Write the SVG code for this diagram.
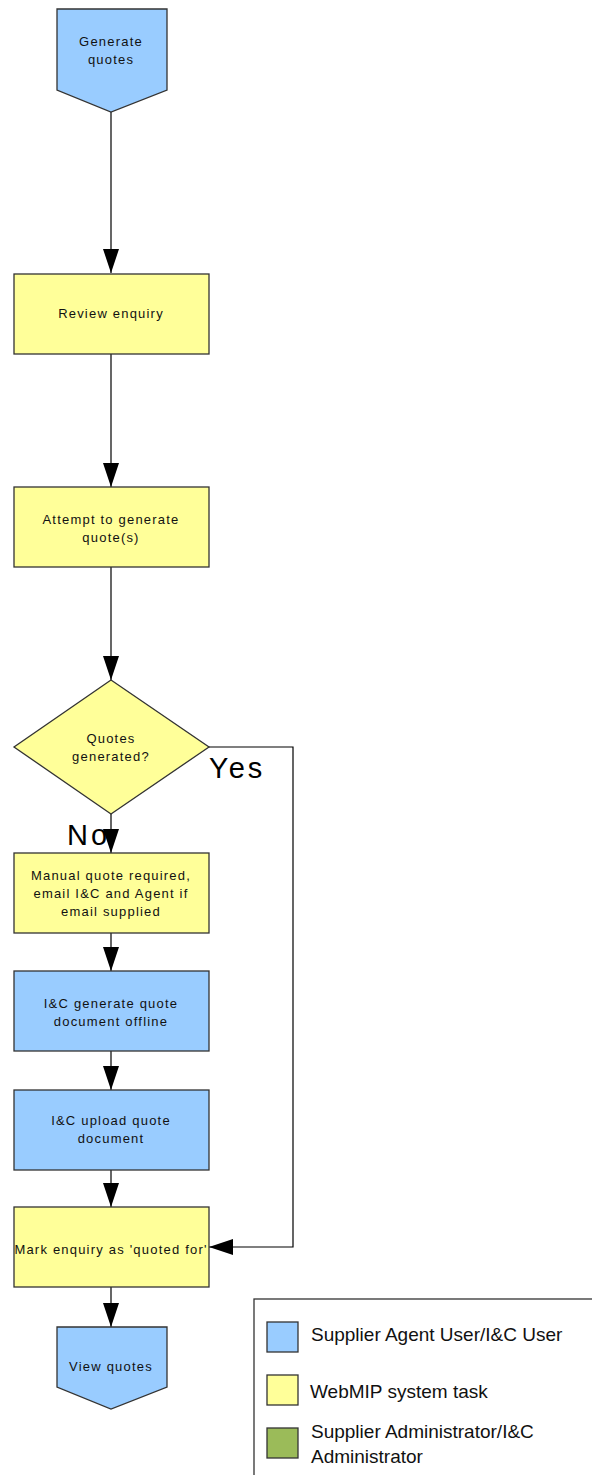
<svg xmlns="http://www.w3.org/2000/svg" width="592" height="1475" viewBox="0 0 592 1475">
<defs>
<style>
.n{stroke:#333;stroke-width:1.3}
.b{fill:#99CCFF}
.y{fill:#FFFF99}
.g{fill:#9BBB59}
.t{font-family:"Liberation Sans",Arial,sans-serif;font-size:13px;letter-spacing:1.2px;fill:#111;text-anchor:middle}
.big{font-family:"Liberation Sans",Arial,sans-serif;font-size:29px;letter-spacing:3px;fill:#000}
.lg{font-family:"Liberation Sans",Arial,sans-serif;font-size:19px;fill:#111}
.c{fill:none;stroke:#000;stroke-width:1.2}
</style>
<marker id="ah" viewBox="0 0 24 16" refX="24" refY="8" markerWidth="24" markerHeight="16" markerUnits="userSpaceOnUse" orient="auto">
<path d="M0,0 L24,8 L0,16 z" fill="#000"/>
</marker>
</defs>
<rect width="592" height="1475" fill="#fff"/>
<g id="connectors">
<path class="c" d="M111,112 V273" marker-end="url(#ah)"/>
<path class="c" d="M111,354 V487" marker-end="url(#ah)"/>
<path class="c" d="M111,567 V680" marker-end="url(#ah)"/>
<path class="c" d="M111,814 V853" marker-end="url(#ah)"/>
<path class="c" d="M111,933 V971" marker-end="url(#ah)"/>
<path class="c" d="M111,1051 V1090" marker-end="url(#ah)"/>
<path class="c" d="M111,1170 V1207" marker-end="url(#ah)"/>
<path class="c" d="M111,1287 V1327" marker-end="url(#ah)"/>
<path class="c" d="M209,747 H293 V1247 H209" marker-end="url(#ah)"/>
<text class="big" x="209" y="778">Yes</text>
<text class="big" x="67" y="845">No</text>
</g>
<g id="generate-quotes">
<path class="n b" d="M57,9 H167 V90 L111,112 L57,90 Z"/>
<text class="t" x="111" y="46">Generate</text>
<text class="t" x="111" y="64">quotes</text>
</g>
<g id="review-enquiry">
<rect class="n y" x="14" y="274" width="195" height="80"/>
<text class="t" x="111" y="318">Review enquiry</text>
</g>
<g id="attempt">
<rect class="n y" x="14" y="487" width="195" height="80"/>
<text class="t" x="111" y="524">Attempt to generate</text>
<text class="t" x="111" y="542">quote(s)</text>
</g>
<g id="quotes-generated">
<path class="n y" d="M111,680 L209,747 L111,814 L14,747 Z"/>
<text class="t" x="111" y="743">Quotes</text>
<text class="t" x="111" y="761">generated?</text>
</g>
<g id="manual-quote">
<rect class="n y" x="14" y="853" width="195" height="80"/>
<text class="t" x="111" y="880">Manual quote required,</text>
<text class="t" x="111" y="898">email I&amp;C and Agent if</text>
<text class="t" x="111" y="916">email supplied</text>
</g>
<g id="ic-generate">
<rect class="n b" x="14" y="971" width="195" height="80"/>
<text class="t" x="111" y="1008">I&amp;C generate quote</text>
<text class="t" x="111" y="1026">document offline</text>
</g>
<g id="ic-upload">
<rect class="n b" x="14" y="1090" width="195" height="80"/>
<text class="t" x="111" y="1125">I&amp;C upload quote</text>
<text class="t" x="111" y="1143">document</text>
</g>
<g id="mark-enquiry">
<rect class="n y" x="14" y="1207" width="195" height="80"/>
<text class="t" x="111" y="1254">Mark enquiry as 'quoted for'</text>
</g>
<g id="view-quotes">
<path class="n b" d="M57,1327 H167 V1387 L111,1409 L57,1387 Z"/>
<text class="t" x="111" y="1371">View quotes</text>
</g>
<g id="legend">
<rect x="254" y="1299" width="345" height="185" fill="#fff" stroke="#333" stroke-width="1.3"/>
<rect class="n b" x="267" y="1322" width="31" height="30"/>
<text class="lg" x="311" y="1341">Supplier Agent User/I&amp;C User</text>
<rect class="n y" x="267" y="1375" width="31" height="30"/>
<text class="lg" x="310" y="1398">WebMIP system task</text>
<rect class="n g" x="267" y="1428" width="31" height="30"/>
<text class="lg" x="311" y="1438">Supplier Administrator/I&amp;C</text>
<text class="lg" x="311" y="1463">Administrator</text>
</g>
</svg>
